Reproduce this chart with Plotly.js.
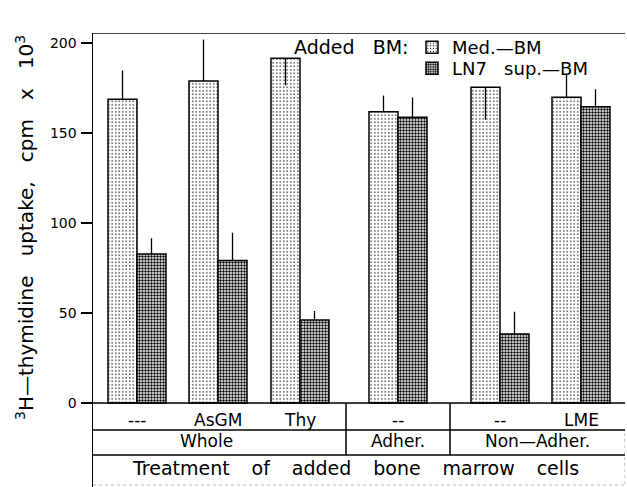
<!DOCTYPE html>
<html>
<head>
<meta charset="utf-8">
<script src="https://cdn.plot.ly/plotly-3.0.1.min.js"></script>
<style>
html,body{margin:0;padding:0;background:#fff;}
#chart{width:627px;height:487px;}
</style>
</head>
<body>
<div id="chart"></div>
<script>
// ---- data ----
const treatments = ['---', 'AsGM', 'Thy', '--', '--', 'LME'];
const cellGroups = ['Whole', 'Adher.', 'Non\u2014Adher.'];
const medBM = [168.7, 178.9, 191.5, 161.8, 175.4, 169.8];
const medBMErrUp = [16, 23, 0, 9, 0, 13];
const medBMErrDown = [0, 0, 15, 0, 18, 0];
const ln7BM = [82.8, 79.1, 46.1, 158.7, 38.3, 164.6];
const ln7BMErrUp = [8.7, 15.5, 5, 11, 12.4, 9.7];
const yTicks = [0, 50, 100, 150, 200];

// ---- layout helpers (pixel geometry) ----
const W = 627, H = 487;
const L = 93, R = 625, T = 33, B = 487;
const groupPos = [137, 218, 300, 398, 500, 581];   // group centres, in x-axis units (px-like)
const cellGroupPos = [206, 398, 537];
const dividers = [346, 450];
const barW = 29;
const yZeroPx = 403, pxPerUnit = 1.8;
const yv = py => (yZeroPx - py) / pxPerUnit;       // pixel row -> y data
const xp = px => (px - L) / (R - L);
const yp = py => (B - py) / (B - T);
const FONT = 'DejaVu Sans, sans-serif';
const GAP = '\u00a0\u00a0\u00a0\u2009';

const traces = [
  {
    type: 'bar', name: 'Med.\u2014BM', x: groupPos, y: medBM, legend: 'legend',
    width: barW, offset: -barW,
    marker: {color: 'white', line: {color: 'black', width: 1.5},
             pattern: {shape: '.', size: 3.5, solidity: 0.14, fgcolor: 'black', bgcolor: 'white'}},
    error_y: {type: 'data', symmetric: false, array: medBMErrUp, arrayminus: medBMErrDown,
              color: 'black', thickness: 1.3, width: 0}
  },
  {
    type: 'bar', name: 'LN7\u00a0\u00a0\u00a0sup.\u2014BM', x: groupPos, y: ln7BM, legend: 'legend2',
    width: barW, offset: 0,
    marker: {color: 'white', line: {color: 'black', width: 1.5},
             pattern: {shape: '.', size: 3, solidity: 0.5, fgcolor: 'black', bgcolor: 'white'}},
    error_y: {type: 'data', symmetric: false, array: ln7BMErrUp, arrayminus: ln7BM.map(() => 0),
              color: 'black', thickness: 1.3, width: 0}
  }
];

const shapes = [];
const line = (x0, y0, x1, y1, extra) => Object.assign({type: 'line', xref: 'x', yref: 'y', x0, y0, x1, y1,
  line: {color: 'black', width: 1.5}, layer: 'above'}, extra || {});
shapes.push(line(L, yv(T), 627, yv(T)));
shapes.push(line(L, 0, 627, 0));
shapes.push(line(L, yv(430), R, yv(430)));
shapes.push(line(L, yv(455), R, yv(455)));
shapes.push(line(L, yv(485), R, yv(485), {line: {color: '#bbb', width: 1, dash: 'dot'}}));
shapes.push(line(R, yv(433), R, yv(487), {line: {color: '#999', width: 1, dash: 'dot'}}));
dividers.forEach(d => shapes.push(line(d, 0, d, yv(455))));

const annotations = [];
treatments.forEach((t, i) => annotations.push({
  x: groupPos[i], y: yp(420), xref: 'x', yref: 'paper', text: t, showarrow: false,
  font: {family: FONT, size: 17, color: 'black'}, xanchor: 'center', yanchor: 'middle'}));
cellGroups.forEach((t, i) => annotations.push({
  x: cellGroupPos[i], y: yp(441), xref: 'x', yref: 'paper', text: t, showarrow: false,
  font: {family: FONT, size: 17, color: 'black'}, xanchor: 'center', yanchor: 'middle'}));
annotations.push({
  x: 355, y: yp(468), xref: 'x', yref: 'paper',
  text: ['Treatment', 'of', 'added', 'bone', 'marrow', 'cells'].join(GAP),
  showarrow: false, font: {family: FONT, size: 19, color: 'black'}, xanchor: 'center', yanchor: 'middle'});
annotations.push({
  x: 292, y: yp(47), xref: 'x', yref: 'paper', text: 'Added\u00a0\u00a0\u00a0BM:', showarrow: false,
  font: {family: FONT, size: 19, color: 'black'}, xanchor: 'left', yanchor: 'middle'});
annotations.push({
  x: xp(25), xref: 'paper', y: yp(228), yref: 'paper', textangle: -90, showarrow: false,
  text: ['<sup>3</sup>H\u2014thymidine', 'uptake,', 'cpm', 'x', '10<sup>3</sup>'].join('\u00a0\u00a0\u00a0'),
  font: {family: FONT, size: 20, color: 'black'}, xanchor: 'center', yanchor: 'middle'});

const legendCommon = {xanchor: 'left', yanchor: 'top', bgcolor: 'rgba(0,0,0,0)',
  font: {family: FONT, size: 18, color: 'black'}, itemwidth: 30, borderwidth: 0};

const layout = {
  width: W, height: H,
  margin: {l: L, r: W - R, t: T, b: H - B, pad: 0},
  paper_bgcolor: 'white', plot_bgcolor: 'white',
  barmode: 'overlay',
  showlegend: true,
  legend: Object.assign({x: xp(412), y: yp(29)}, legendCommon),
  legend2: Object.assign({x: xp(412), y: yp(50)}, legendCommon),
  xaxis: {range: [L, R], visible: false, fixedrange: true},
  yaxis: {range: [yv(B), yv(T)], tickvals: yTicks, ticktext: yTicks.map(String),
          ticks: 'outside', ticklen: 11, tickwidth: 1.3, tickcolor: 'black',
          showline: true, linecolor: 'black', linewidth: 1.5, showgrid: false, zeroline: false,
          tickfont: {family: FONT, size: 14, color: 'black'}, ticklabelstandoff: 1},
  shapes, annotations
};

Plotly.newPlot('chart', traces, layout, {staticPlot: true});
</script>
</body>
</html>
